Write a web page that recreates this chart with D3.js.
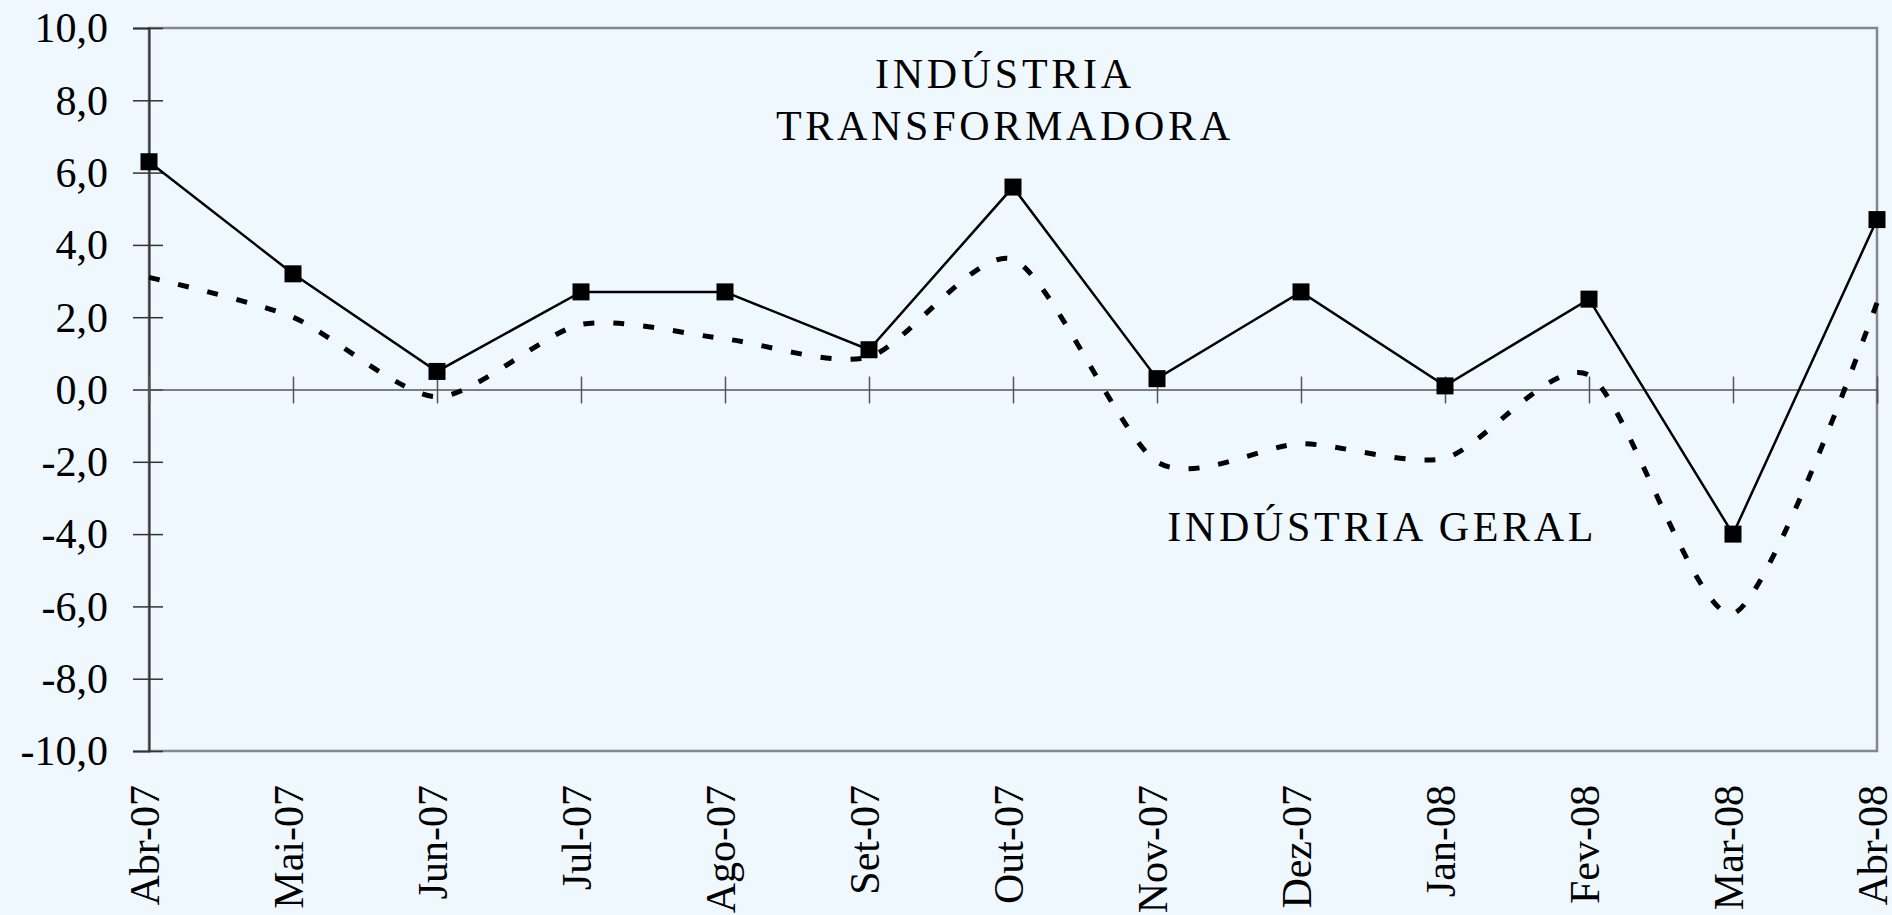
<!DOCTYPE html>
<html lang="pt">

<head>
  <meta charset="UTF-8">
  <title>Indústria Transformadora e Indústria Geral</title>
  <script src="https://d3js.org/d3.v7.min.js"></script>
  <style>
    body {
      margin: 0;
      background: #f0f8ff;
    }

    svg {
      display: block;
      font-family: "Liberation Serif", "Times New Roman", serif;
    }
  </style>
</head>

<body>
  <script>
    const months = ['Abr-07', 'Mai-07', 'Jun-07', 'Jul-07', 'Ago-07', 'Set-07', 'Out-07',
      'Nov-07', 'Dez-07', 'Jan-08', 'Fev-08', 'Mar-08', 'Abr-08'];

    // Indústria Transformadora (solid line, square markers)
    const transformadora = [6.3, 3.2, 0.5, 2.7, 2.7, 1.1, 5.6, 0.3, 2.7, 0.1, 2.5, -4.0, 4.7];

    // Indústria Geral (dashed, smoothed)
    const geral = [3.1, 2.0, -0.2, 1.8, 1.4, 0.9, 3.6, -2.0, -1.5, -1.9, 0.4, -6.2, 2.4];

    const yTicks = [10, 8, 6, 4, 2, 0, -2, -4, -6, -8, -10];

    const w = 1892;
    const h = 915;

    const x = d3.scalePoint()
      .domain(months)
      .range([149, 1877]);

    const y = d3.scaleLinear()
      .domain([-10, 10])
      .range([751, 28]);

    const fmt = d => d.toFixed(1).replace('.', ',');

    const svg = d3.select('body')
      .append('svg')
      .attr('width', w)
      .attr('height', h);

    // plot frame (top, right, bottom in grey)
    svg.append('rect')
      .attr('x', x(months[0]))
      .attr('y', y(10))
      .attr('width', x(months[months.length - 1]) - x(months[0]))
      .attr('height', y(-10) - y(10))
      .attr('fill', 'none')
      .attr('stroke', '#868686')
      .attr('stroke-width', 2.5);

    // y axis
    const yAxis = d3.axisLeft(y)
      .tickValues(yTicks)
      .tickFormat(fmt)
      .tickSize(16)
      .tickPadding(25);

    const gy = svg.append('g')
      .attr('transform', `translate(${x(months[0])},0)`)
      .call(yAxis);

    gy.select('.domain').attr('stroke', '#333').attr('stroke-width', 2);
    gy.selectAll('.tick line').attr('x1', 14).attr('stroke', '#333').attr('stroke-width', 1.5);
    gy.selectAll('.tick text')
      .attr('font-size', 42)
      .attr('font-family', '"Liberation Serif", serif')
      .attr('fill', '#000')
      .attr('dy', '0.33em');

    // zero line with month ticks
    const xAxis = d3.axisBottom(x)
      .tickSize(14)
      .tickFormat('');

    const gx = svg.append('g')
      .attr('transform', `translate(0,${y(0)})`)
      .call(xAxis);

    gx.select('.domain').attr('stroke', '#555').attr('stroke-width', 1.5);
    gx.selectAll('.tick line').attr('y1', -13).attr('stroke', '#555').attr('stroke-width', 1.5);

    // month labels under the plot
    const gl = svg.append('g')
      .attr('transform', `translate(0,${y(-10)})`)
      .call(d3.axisBottom(x).tickSize(0));

    gl.select('.domain').remove();
    gl.selectAll('.tick text')
      .attr('transform', 'rotate(-90)')
      .attr('text-anchor', 'end')
      .attr('x', -34)
      .attr('y', 9)
      .attr('dy', 0)
      .attr('font-size', 42)
      .attr('font-family', '"Liberation Serif", serif')
      .attr('fill', '#000');

    // dashed smoothed line - Indústria Geral
    const smooth = d3.line()
      .x((d, i) => x(months[i]))
      .y(d => y(d))
      .curve(d3.curveCardinal.tension(0.25));

    svg.append('path')
      .datum(geral)
      .attr('d', smooth)
      .attr('fill', 'none')
      .attr('stroke', '#000')
      .attr('stroke-width', 5)
      .attr('stroke-dasharray', '11,19');

    // solid line - Indústria Transformadora
    const straight = d3.line()
      .x((d, i) => x(months[i]))
      .y(d => y(d));

    svg.append('path')
      .datum(transformadora)
      .attr('d', straight)
      .attr('fill', 'none')
      .attr('stroke', '#000')
      .attr('stroke-width', 2.5);

    const m = 17;
    svg.selectAll('rect.marker')
      .data(transformadora)
      .enter()
      .append('rect')
      .attr('class', 'marker')
      .attr('x', (d, i) => x(months[i]) - m / 2)
      .attr('y', d => y(d) - m / 2)
      .attr('width', m)
      .attr('height', m)
      .attr('fill', '#000');

    // annotations
    const step = x.step();
    const note = svg.append('g')
      .attr('font-size', 42)
      .attr('fill', '#000')
      .attr('letter-spacing', 3.7)
      .attr('text-anchor', 'middle');

    note.append('text')
      .attr('x', x('Out-07') - step * 0.07 + 2)
      .attr('y', y(8.35))
      .text('INDÚSTRIA');

    note.append('text')
      .attr('x', x('Out-07') - step * 0.07 + 2)
      .attr('y', y(6.9))
      .text('TRANSFORMADORA');

    note.append('text')
      .attr('x', x('Dez-07') + step * 0.55 + 2)
      .attr('y', y(-4.2))
      .text('INDÚSTRIA GERAL');
  </script>
</body>

</html>
